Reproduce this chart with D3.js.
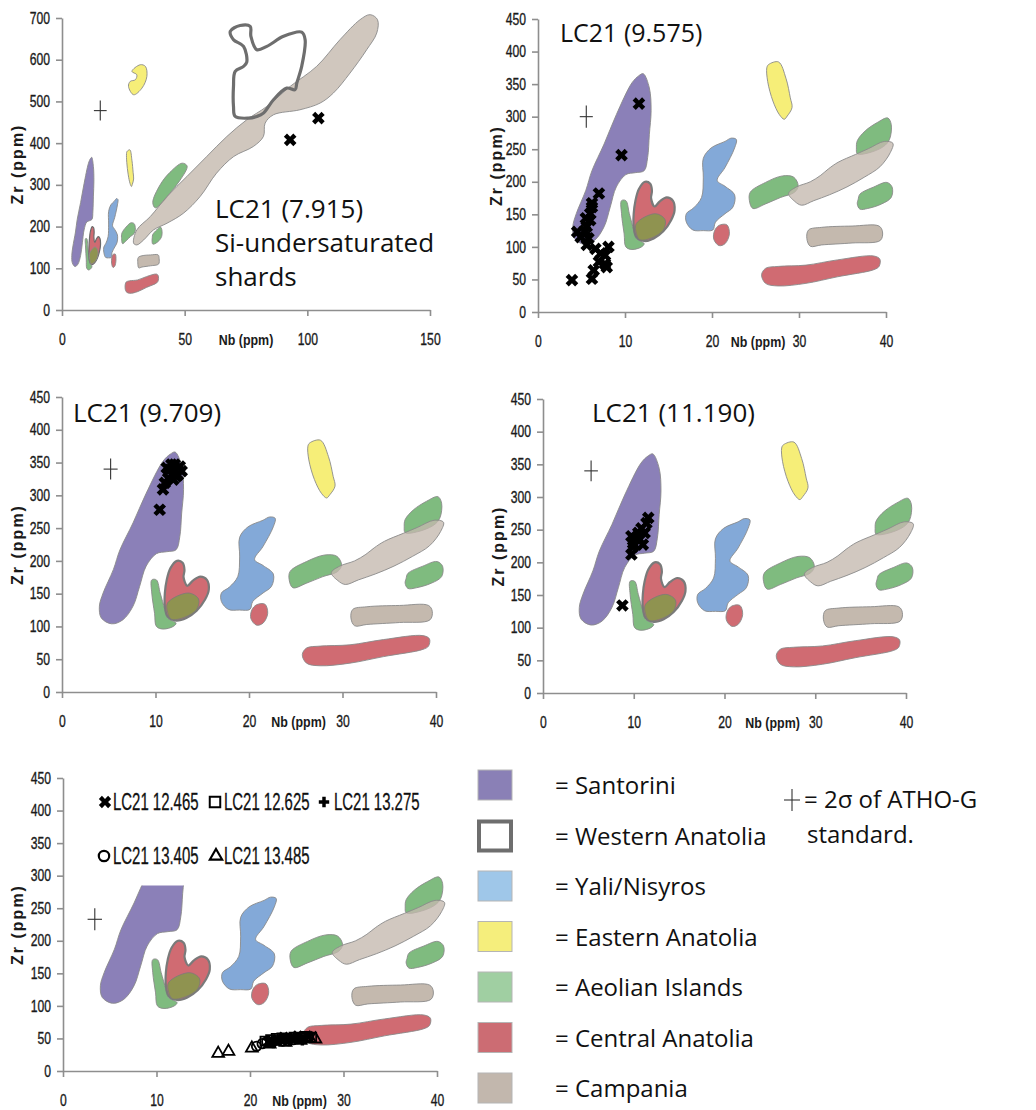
<!DOCTYPE html>
<html><head><meta charset="utf-8">
<script src="https://cdn.jsdelivr.net/npm/d3@7"></script>
<style>body{margin:0;background:#fff}</style>
</head><body>
<svg id="chart" width="1036" height="1110"></svg>
<script>
// ---------------- DATA ----------------
const xTicksWide = [0, 50, 100, 150];
const yTicksWide = [0, 100, 200, 300, 400, 500, 600, 700];
const xTicksNarrow = [0, 10, 20, 30, 40];
const yTicksNarrow = [0, 50, 100, 150, 200, 250, 300, 350, 400, 450];
const xAxisTitle = "Nb (ppm)";
const yAxisTitle = "Zr (ppm)";

const panelTitles = [
  ["LC21 (7.915)", "Si-undersaturated", "shards"],
  ["LC21 (9.575)"],
  ["LC21 (9.709)"],
  ["LC21 (11.190)"],
  []
];

const legendRegions = ["Santorini", "Western Anatolia", "Yali/Nisyros", "Eastern Anatolia", "Aeolian Islands", "Central Anatolia", "Campania"];
const athoLabel = ["= 2\u03c3 of ATHO-G", "standard."];

// Field outlines [Nb, Zr]
const santoriniField = [[12.1,366],[12.8,344],[13.0,309],[12.8,273],[12.6,237],[12.2,217],[11.2,214],[10.1,211],[9.0,192],[8.3,161],[7.6,131],[6.5,110],[5.3,104],[4.2,113],[4.0,131],[4.4,151],[5.5,187],[6.2,217],[7.6,258],[9.0,303],[10.8,352],[11.6,363]];
const aeolianSmall = [[9.6,171],[10.1,171],[10.5,151],[11.0,126],[11.3,113],[12.2,105],[11.9,100],[10.8,96],[10.1,100],[9.9,120],[9.6,151]];
const centralHeart = [[12.3,200],[12.9,197],[13.1,186],[13.0,175],[13.4,162],[14.0,170],[14.8,176],[15.5,171],[15.7,156],[15.3,141],[14.4,124],[13.3,113],[12.2,109],[11.3,115],[11.0,131],[11.0,151],[11.2,171],[11.6,189]];
const aeolianOverlap = [[11.3,136],[13.5,151],[14.6,142],[14.4,126],[13.1,114],[11.7,111],[11.3,121]];
const yaliField = [[22.8,265],[22.6,252],[21.5,222],[20.6,202],[21.5,193],[22.6,180],[22.4,161],[21.5,151],[20.4,138],[20.1,126],[19.0,125],[17.8,126],[17.05,138],[17.05,151],[17.9,160],[18.8,176],[19.0,206],[19.0,236],[19.9,252],[21.5,262],[22.2,267]];
const centralBlob = [[20.8,133],[21.7,134],[22.0,120],[21.5,105],[20.8,102],[20.2,112],[20.3,125]];
const easternField = [[26.5,380],[27.65,384],[28.5,359],[29.0,329],[29.2,314],[28.65,301],[28.3,296],[27.75,303],[27.0,324],[26.4,354],[26.3,375]];
const aeolianLeft = [[24.4,184],[26.15,199],[28.1,209],[29.4,207],[29.9,194],[29.5,184],[27.9,176],[26.15,166],[24.7,159],[24.3,171]];
const aeolianUpper = [[36.7,263],[37.6,278],[39.0,291],[40.2,298],[40.6,288],[40.4,265],[39.7,254],[37.9,244],[36.7,243],[36.6,252]];
const aeolianLower = [[37.0,181],[38.6,192],[40.1,199],[40.7,192],[40.6,176],[39.5,166],[37.9,159],[37.0,158],[36.7,166],[36.8,173]];
const campaniaBand = [[28.8,182],[29.5,170],[30.3,164],[31.7,171],[33.5,180],[35.5,192],[37.5,207],[39.3,223],[40.5,245],[40.8,259],[39.8,262],[38.0,251],[36.5,242],[34.5,230],[33.4,220],[32.5,210],[31.3,200],[29.7,192]];
const campaniaBar = [[31.1,126],[32.6,130],[36.1,132],[39.2,132],[39.6,123],[39.35,110],[36.1,106],[32.6,103],[31.3,101],[30.9,113]];
const centralBar = [[26.15,67],[27.6,70],[30.8,72],[34.4,80],[38.6,86],[39.3,81],[39.2,70],[38.6,65],[34.4,54],[30.8,44],[27.6,40],[26.15,44],[25.7,57]];
// wide-range-only fields (panel 1)
const campaniaWide = [[29.2,160],[30.5,192],[36,224],[42.8,272],[50.9,320],[59,368],[67.2,416],[75.3,456],[83.5,488],[93,536],[103.8,584],[113.3,648],[121.5,696],[125.6,708],[128.6,696],[128.3,664],[124.2,624],[117.4,568],[110.6,520],[105.2,496],[97,480],[86.2,468],[82.8,448],[82.1,416],[78,392],[70,368],[63,328],[56.3,272],[49.5,232],[42.8,208],[37.3,192],[33.3,168],[30.5,156]];
const aeolianUpperWide = [[37,258],[40,300],[44,330],[49,352],[51,345],[48,310],[44,280],[41,258],[38,245]];
const easternHigh = [[28.5,572],[31.9,588],[34,584],[34.6,560],[32.6,532],[29.2,516],[27.1,536],[27.8,548],[29.9,552],[30.5,564]];
const westernAnatolia = [[68.6,668],[72.6,682],[76.7,680],[77,656],[79.4,624],[83.5,632],[90.3,656],[97.7,666],[99.1,648],[97.7,584],[95.7,544],[95,528],[91.6,532],[86.2,504],[82.1,472],[79.4,464],[76,460],[70.6,464],[69.9,488],[69.9,536],[70.6,572],[74,584],[75.3,594],[74,632],[69.9,648]];

// LC21 shard analyses [Nb, Zr]
const shards7915 = [[93,408],[104.5,460]];
const shards9575 = [[11.6,320],[9.6,241],[7.0,182],[6.2,167],[6.2,161],[6.0,151],[5.5,144],[6.0,141],[5.6,131],[5.4,125],[4.5,123],[4.9,115],[5.8,113],[5.6,103],[6.6,97],[8.1,100],[7.2,90],[7.7,87],[7.0,77],[7.7,74],[7.9,69],[6.4,64],[6.2,51],[3.9,49]];
const shards9709 = [[10.45,278],[10.8,309],[11.0,319],[11.35,326],[11.9,324],[12.24,329],[12.4,331],[11.9,339],[11.5,339],[11.2,342],[12.8,337],[11.7,347],[12.06,347],[12.6,344]];
const shards11190 = [[8.75,134],[9.74,212],[9.93,224],[9.93,229],[9.74,240],[10.66,235],[11.0,227],[10.5,245],[11.2,245],[10.85,252],[11.4,260],[11.6,268]];
const lc21_12465 = [[22.0,45],[22.9,48],[23.6,52],[24.4,50],[25.1,54],[25.8,50],[26.3,53],[24.0,47]];
const lc21_12625 = [[21.6,46],[22.2,48],[22.8,50],[23.4,51],[24.0,50],[24.7,52],[25.3,51],[25.9,53],[26.6,52]];
const lc21_13275 = [[22.5,43],[23.2,47],[24.2,46],[25.0,49],[25.6,47]];
const lc21_13405 = [[20.7,38],[21.3,42],[21.8,45],[22.4,44],[23.0,47],[23.5,46],[24.1,49],[24.6,48]];
const lc21_13485 = [[16.6,27],[17.7,30],[20.2,35],[22.1,41],[23.8,44],[25.4,47],[26.4,50],[27.0,49]];
const bottomSeriesLabels = ["LC21 12.465", "LC21 12.625", "LC21 13.275", "LC21 13.405", "LC21 13.485"];

// ATHO-G 2 sigma [Nb, Zr, errNb, errZr]
const athoPanels = [[15.6,478,2.6,24],[5.55,300,0.75,17],[5.2,340,0.75,16],[5.3,340,0.75,16],[3.4,233,0.77,17]];

// ---------------- STYLE / LAYOUT ----------------
const C = {
  purple: "#8b80b8", blue: "#83a9d8", yellow: "#f6ee78", green: "#7fbb7f",
  red: "#d06b72", brown: "#c4b9ae", olive: "#8f9350", edge: "#8a8a8a"
};
const legendColors = ["#8a80b6", null, "#9fc7e9", "#f5ee7c", "#a0cfa2", "#cc6c73", "#c2b7ad"];
const baseFont = "'Liberation Sans',Arial,sans-serif";
const mainFont = "'Open Sans','Noto Sans',sans-serif";

const frames = [
  {x0:62, x1:430, y0:310, y1:18, zrX:23, title:{x:215, y:[218,252,286], fs:26}},
  {x0:538, x1:886, y0:312, y1:19, zrX:502, title:{x:560, y:[42], fs:25}},
  {x0:62, x1:436, y0:692, y1:397, zrX:23, title:{x:73, y:[422], fs:26}},
  {x0:543, x1:906, y0:693, y1:399, zrX:504, title:{x:592, y:[422], fs:26}},
  {x0:63, x1:437, y0:1071, y1:778, zrX:23, title:{x:0, y:[], fs:26}}
];

const narrowFieldList = [
  {pts: aeolianSmall, fill: C.green},
  {pts: santoriniField, fill: C.purple, clipTop: true},
  {pts: centralHeart, fill: C.red, stroke: "#7a7a7a", sw: 2.2},
  {pts: aeolianOverlap, fill: C.olive, stroke: "#7a7a7a", sw: 0.8},
  {pts: yaliField, fill: C.blue},
  {pts: centralBlob, fill: C.red},
  {pts: easternField, fill: C.yellow, hideLast: true},
  {pts: aeolianLeft, fill: C.green},
  {pts: aeolianUpper, fill: C.green},
  {pts: aeolianLower, fill: C.green},
  {pts: campaniaBand, fill: C.brown, op: 0.78},
  {pts: campaniaBar, fill: C.brown},
  {pts: centralBar, fill: C.red}
];
const wideFieldList = [
  {pts: aeolianSmall, fill: C.green},
  {pts: santoriniField, fill: C.purple},
  {pts: centralHeart, fill: C.red, stroke: "#6a6a6a", sw: 1.2},
  {pts: aeolianOverlap, fill: C.olive},
  {pts: yaliField, fill: C.blue},
  {pts: centralBlob, fill: C.red},
  {pts: easternField, fill: C.yellow},
  {pts: easternHigh, fill: C.yellow},
  {pts: aeolianLeft, fill: C.green},
  {pts: aeolianUpperWide, fill: C.green},
  {pts: aeolianLower, fill: C.green},
  {pts: campaniaWide, fill: C.brown, op: 0.8},
  {pts: campaniaBar, fill: C.brown},
  {pts: centralBar, fill: C.red},
  {pts: westernAnatolia, fill: "none", stroke: "#6e6e6e", sw: 3.2}
];

const svg = d3.select("#chart");
const crossSym = d3.symbol().type(d3.symbolCross);

// horizontally condense a text via transform (keeps anchor position)
function squeeze(sel, f) {
  sel.each(function () {
    const t = d3.select(this);
    const x0 = +(t.attr("x") || 0);
    t.attr("x", x0 / f).attr("transform", `scale(${f},1)`);
  });
}

function drawPanel(i) {
  const fr = frames[i];
  const wide = i === 0;
  const x = d3.scaleLinear().domain(wide ? [0,150] : [0,40]).range([fr.x0, fr.x1]);
  const y = d3.scaleLinear().domain(wide ? [0,700] : [0,450]).range([fr.y0, fr.y1]);
  const g = svg.append("g");
  const line = d3.line().x(d => x(d[0])).y(d => y(d[1])).curve(d3.curveCatmullRomClosed.alpha(0.5));

  if (i === 4) {
    g.append("clipPath").attr("id", "clipTop")
      .append("rect").attr("x", 0).attr("y", y(285)).attr("width", 1036).attr("height", 1110);
  }
  const list = wide ? wideFieldList : narrowFieldList;
  list.forEach(f => {
    if (i === 4 && f.hideLast) return;
    const p = g.append("path").attr("d", line(f.pts))
      .attr("fill", f.fill).attr("fill-opacity", f.op || 1)
      .attr("stroke", f.stroke || C.edge).attr("stroke-width", f.sw || 0.9)
      .attr("stroke-linejoin", "round");
    if (i === 4 && f.clipTop) p.attr("clip-path", "url(#clipTop)");
  });

  // axes
  const xt = wide ? xTicksWide : xTicksNarrow;
  const yt = wide ? yTicksWide : yTicksNarrow;
  const ax = g.append("g").attr("transform", `translate(0,${fr.y0})`)
    .call(d3.axisBottom(x).tickValues(xt).tickSize(6).tickSizeOuter(0).tickPadding(18));
  const ay = g.append("g").attr("transform", `translate(${fr.x0},0)`)
    .call(d3.axisLeft(y).tickValues(yt).tickSize(6).tickSizeOuter(0).tickPadding(6));
  [ax, ay].forEach(a => {
    a.attr("font-family", baseFont).attr("font-size", 16);
    a.selectAll("path,line").attr("stroke", "#8e8e8e").attr("stroke-width", 1.6);
    a.selectAll("text").attr("fill", "#1a1a1a").attr("stroke", "#1a1a1a").attr("stroke-width", 0.35).call(squeeze, 0.76);
  });
  // axis titles
  g.append("text").attr("x", x(wide ? 75 : 25.3)).attr("y", fr.y0 + 35)
    .attr("text-anchor", "middle").attr("font-family", baseFont).attr("font-weight", "bold")
    .attr("font-size", 15).attr("fill", "#1a1a1a").text(xAxisTitle).call(squeeze, 0.83);
  g.append("text").attr("transform", `translate(${fr.zrX},${y(wide ? 350 : 225)}) rotate(-90)`)
    .attr("text-anchor", "middle").attr("font-family", baseFont)
    .attr("font-weight", "bold").attr("font-size", 16).attr("letter-spacing", 2)
    .attr("fill", "#1a1a1a").text(yAxisTitle);

  // title
  panelTitles[i].forEach((t, k) => {
    g.append("text").attr("x", fr.title.x).attr("y", fr.title.y[k])
      .attr("font-family", mainFont).attr("font-size", fr.title.fs).attr("fill", "#111").text(t);
  });

  // ATHO-G error cross
  const a = athoPanels[i];
  const ag = g.append("g").attr("stroke", "#333").attr("stroke-width", 1.1);
  ag.append("line").attr("x1", x(a[0]-a[2])).attr("x2", x(a[0]+a[2])).attr("y1", y(a[1])).attr("y2", y(a[1]));
  ag.append("line").attr("x1", x(a[0])).attr("x2", x(a[0])).attr("y1", y(a[1]-a[3])).attr("y2", y(a[1]+a[3]));

  // shards
  const shardSets = [shards7915, shards9575, shards9709, shards11190];
  if (i < 4) {
    g.selectAll(".sh").data(shardSets[i]).join("path")
      .attr("d", crossSym.size(100)())
      .attr("transform", d => `translate(${x(d[0])},${y(d[1])}) rotate(45)`)
      .attr("fill", "#000");
  } else {
    const open = (data, type, size) => g.append("g").selectAll("path").data(data).join("path")
      .attr("d", d3.symbol().type(type).size(size)())
      .attr("transform", d => `translate(${x(d[0])},${y(d[1])})`)
      .attr("fill", "none").attr("stroke", "#000").attr("stroke-width", 1.8);
    open(lc21_13485, d3.symbolTriangle, 60);
    open(lc21_13405, d3.symbolCircle, 70);
    open(lc21_12625, d3.symbolSquare, 80);
    g.append("g").selectAll("path").data(lc21_13275).join("path")
      .attr("d", crossSym.size(60)()).attr("transform", d => `translate(${x(d[0])},${y(d[1])})`).attr("fill", "#000");
    g.append("g").selectAll("path").data(lc21_12465).join("path")
      .attr("d", crossSym.size(80)()).attr("transform", d => `translate(${x(d[0])},${y(d[1])}) rotate(45)`).attr("fill", "#000");

    // inner legend
    const items = [
      {sym: "x", tx: 113, ty: 810, mx: 105},
      {sym: "sq", tx: 224, ty: 810, mx: 215},
      {sym: "plus", tx: 334, ty: 810, mx: 324},
      {sym: "ci", tx: 113, ty: 864, mx: 104},
      {sym: "tri", tx: 224, ty: 864, mx: 216}
    ];
    items.forEach((it, k) => {
      const cy = it.ty - 8;
      if (it.sym === "x") g.append("path").attr("d", crossSym.size(95)()).attr("transform", `translate(${it.mx},${cy}) rotate(45)`).attr("fill", "#000");
      if (it.sym === "plus") g.append("path").attr("d", crossSym.size(60)()).attr("transform", `translate(${it.mx},${cy})`).attr("fill", "#000");
      if (it.sym === "sq") g.append("path").attr("d", d3.symbol().type(d3.symbolSquare).size(110)()).attr("transform", `translate(${it.mx},${cy})`).attr("fill", "none").attr("stroke", "#000").attr("stroke-width", 2);
      if (it.sym === "ci") g.append("path").attr("d", d3.symbol().type(d3.symbolCircle).size(85)()).attr("transform", `translate(${it.mx},${cy})`).attr("fill", "none").attr("stroke", "#000").attr("stroke-width", 2.2);
      if (it.sym === "tri") g.append("path").attr("d", d3.symbol().type(d3.symbolTriangle).size(65)()).attr("transform", `translate(${it.mx},${cy})`).attr("fill", "none").attr("stroke", "#000").attr("stroke-width", 2.2);
      g.append("text").attr("x", it.tx).attr("y", it.ty).attr("font-family", baseFont)
        .attr("font-size", 23).attr("fill", "#111").attr("stroke", "#111").attr("stroke-width", 0.3)
        .text(bottomSeriesLabels[k]).call(squeeze, 0.65);
    });
  }
}
for (let i = 0; i < 5; i++) drawPanel(i);

// ---------------- region legend ----------------
const lg = svg.append("g");
legendRegions.forEach((r, k) => {
  const top = 770 + k * 50.5;
  if (legendColors[k]) {
    lg.append("rect").attr("x", 478).attr("y", top).attr("width", 34).attr("height", 30)
      .attr("fill", legendColors[k]).attr("stroke", "#b5b5b5").attr("stroke-width", 1);
  } else {
    lg.append("rect").attr("x", 479).attr("y", top + 1).attr("width", 32).attr("height", 29)
      .attr("fill", "#fff").attr("stroke", "#6e6e6e").attr("stroke-width", 4);
  }
  lg.append("text").attr("x", 555).attr("y", top + 24).attr("font-family", mainFont)
    .attr("font-size", 24).attr("fill", "#111").text("= " + r);
});
const pg = lg.append("g").attr("stroke", "#333").attr("stroke-width", 1.1);
pg.append("line").attr("x1", 784).attr("x2", 800).attr("y1", 800).attr("y2", 800);
pg.append("line").attr("x1", 792).attr("x2", 792).attr("y1", 789).attr("y2", 811);
lg.append("text").attr("x", 804).attr("y", 808).attr("font-family", mainFont).attr("font-size", 24).attr("fill", "#111").text(athoLabel[0]);
lg.append("text").attr("x", 807).attr("y", 843).attr("font-family", mainFont).attr("font-size", 24).attr("fill", "#111").text(athoLabel[1]);
</script>
</body></html>
